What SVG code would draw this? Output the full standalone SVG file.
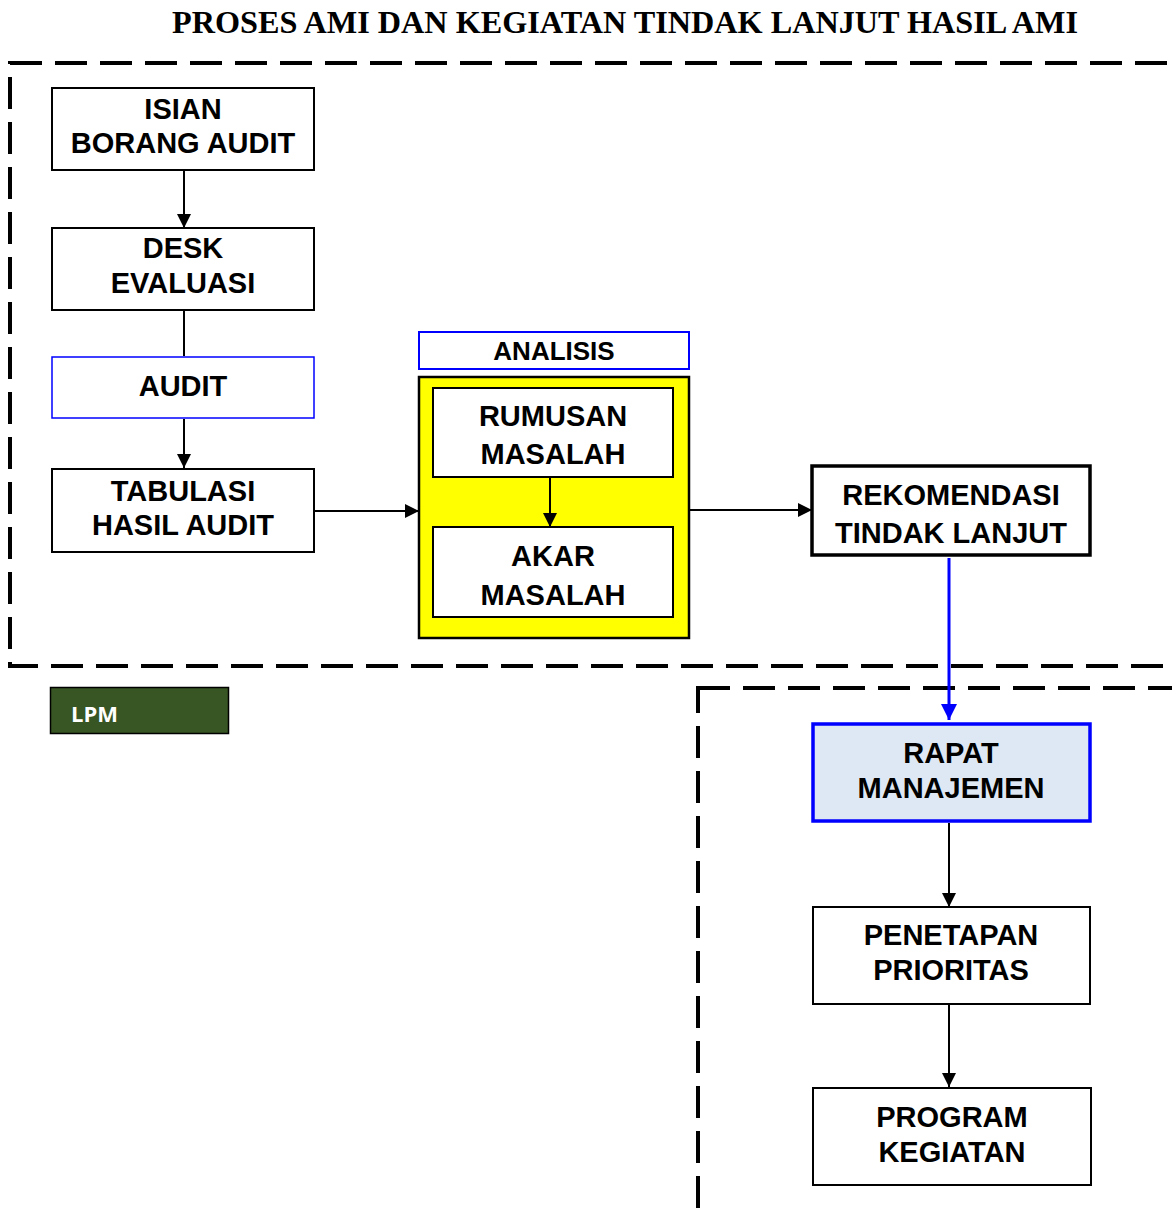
<svg xmlns="http://www.w3.org/2000/svg" width="1172" height="1215" viewBox="0 0 1172 1215">
<defs>
<style>
.box{fill:#fff;stroke:#000;stroke-width:2}
.t{font-family:"Liberation Sans",Arial,sans-serif;font-weight:bold;font-size:29px;fill:#000;text-anchor:middle}
.dash{fill:none;stroke:#000;stroke-width:4;stroke-dasharray:32 13}
.c{fill:none;stroke:#000;stroke-width:2}
</style>
<marker id="ah" viewBox="0 0 12 12" refX="12" refY="6" markerWidth="14" markerHeight="14" markerUnits="userSpaceOnUse" orient="auto">
<path d="M0,0 L12,6 L0,12 Z" fill="#000"/>
</marker>
<marker id="ahb" viewBox="0 0 12 12" refX="12" refY="6" markerWidth="16" markerHeight="16" markerUnits="userSpaceOnUse" orient="auto">
<path d="M0,0 L12,6 L0,12 Z" fill="#0000FF"/>
</marker>
</defs>
<rect width="1172" height="1215" fill="#fff"/>
<text x="625" y="33" font-family="'Liberation Serif','Times New Roman',serif" font-weight="bold" font-size="32" text-anchor="middle" textLength="906" lengthAdjust="spacingAndGlyphs">PROSES AMI DAN KEGIATAN TINDAK LANJUT HASIL AMI</text>
<g id="frames">
<rect class="dash" x="10" y="63" width="1220" height="603"/>
<rect class="dash" x="698" y="688" width="560" height="600"/>
</g>
<g id="lpm">
<rect x="50.5" y="687.5" width="178" height="46" fill="#375623" stroke="#000" stroke-width="1.5"/>
<text x="71" y="722" font-family="'Open Sans','Noto Sans',sans-serif" font-weight="bold" font-size="22" fill="#fff">LPM</text>
</g>
<g id="isian">
<rect class="box" x="52" y="88" width="262" height="82"/>
<text class="t" x="183" y="119">ISIAN</text>
<text class="t" x="183" y="153">BORANG AUDIT</text>
</g>
<g id="desk">
<rect class="box" x="52" y="228" width="262" height="82"/>
<text class="t" x="183" y="258">DESK</text>
<text class="t" x="183" y="293">EVALUASI</text>
</g>
<g id="audit">
<rect x="52" y="357" width="262" height="61" fill="#fff" stroke="#0000FF" stroke-width="1.5"/>
<text class="t" x="183" y="396">AUDIT</text>
</g>
<g id="tabulasi">
<rect class="box" x="52" y="469" width="262" height="83"/>
<text class="t" x="183" y="501">TABULASI</text>
<text class="t" x="183" y="535">HASIL AUDIT</text>
</g>
<g id="analisis-label">
<rect x="419" y="332" width="270" height="37" fill="#fff" stroke="#0000FF" stroke-width="2"/>
<text class="t" x="554" y="360" style="font-size:26px">ANALISIS</text>
</g>
<g id="analisis">
<rect x="419" y="377" width="270" height="261" fill="#FFFF00" stroke="#000" stroke-width="2.5"/>
</g>
<g id="rumusan">
<rect class="box" x="433" y="388" width="240" height="89"/>
<text class="t" x="553" y="426">RUMUSAN</text>
<text class="t" x="553" y="464">MASALAH</text>
</g>
<g id="akar">
<rect class="box" x="433" y="527" width="240" height="90"/>
<text class="t" x="553" y="566">AKAR</text>
<text class="t" x="553" y="605">MASALAH</text>
</g>
<g id="rekomendasi">
<rect x="812" y="466" width="278" height="89" fill="#fff" stroke="#000" stroke-width="3.5"/>
<text class="t" x="951" y="505">REKOMENDASI</text>
<text class="t" x="951" y="543">TINDAK LANJUT</text>
</g>
<g id="rapat">
<rect x="813" y="724" width="277" height="97" fill="#DEE8F5" stroke="#0000FF" stroke-width="3.5"/>
<text class="t" x="951" y="763">RAPAT</text>
<text class="t" x="951" y="798">MANAJEMEN</text>
</g>
<g id="penetapan">
<rect class="box" x="813" y="907" width="277" height="97"/>
<text class="t" x="951" y="945">PENETAPAN</text>
<text class="t" x="951" y="980">PRIORITAS</text>
</g>
<g id="program">
<rect class="box" x="813" y="1088" width="278" height="97"/>
<text class="t" x="952" y="1127">PROGRAM</text>
<text class="t" x="952" y="1162">KEGIATAN</text>
</g>
<g id="connectors">
<line class="c" x1="184" y1="171" x2="184" y2="228" marker-end="url(#ah)"/>
<line class="c" x1="184" y1="311" x2="184" y2="356"/>
<line class="c" x1="184" y1="419" x2="184" y2="468" marker-end="url(#ah)"/>
<line class="c" x1="315" y1="511" x2="419" y2="511" marker-end="url(#ah)"/>
<line class="c" x1="550" y1="478" x2="550" y2="527" marker-end="url(#ah)"/>
<line class="c" x1="690" y1="510" x2="812" y2="510" marker-end="url(#ah)"/>
<line x1="949" y1="558" x2="949" y2="720" stroke="#0000FF" stroke-width="3" marker-end="url(#ahb)"/>
<line class="c" x1="949" y1="823" x2="949" y2="907" marker-end="url(#ah)"/>
<line class="c" x1="949" y1="1005" x2="949" y2="1087" marker-end="url(#ah)"/>
</g>
</svg>
